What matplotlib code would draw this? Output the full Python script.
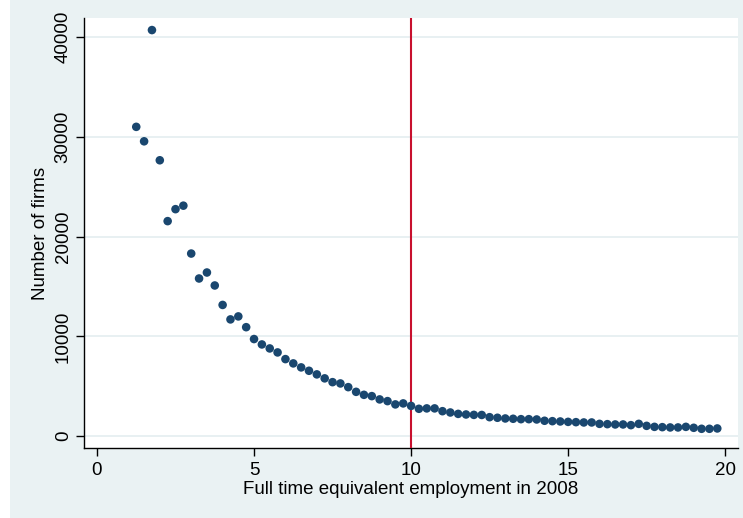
import matplotlib
matplotlib.use("Agg")
import matplotlib.pyplot as plt
from matplotlib.patches import Rectangle

# Data
fte = [1.25, 1.5, 1.75, 2.0, 2.25, 2.5, 2.75, 3.0, 3.25, 3.5, 3.75, 4.0, 4.25, 4.5, 4.75,
       5.0, 5.25, 5.5, 5.75, 6.0, 6.25, 6.5, 6.75, 7.0, 7.25, 7.5, 7.75, 8.0, 8.25, 8.5,
       8.75, 9.0, 9.25, 9.5, 9.75, 10.0, 10.25, 10.5, 10.75, 11.0, 11.25, 11.5, 11.75, 12.0,
       12.25, 12.5, 12.75, 13.0, 13.25, 13.5, 13.75, 14.0, 14.25, 14.5, 14.75, 15.0, 15.25,
       15.5, 15.75, 16.0, 16.25, 16.5, 16.75, 17.0, 17.25, 17.5, 17.75, 18.0, 18.25, 18.5,
       18.75, 19.0, 19.25, 19.5, 19.75]
firms = [31000, 29550, 40700, 27650, 21550, 22750, 23100, 18300, 15800, 16400, 15100, 13150,
         11700, 12000, 10920, 9730, 9190, 8790, 8390, 7720, 7290, 6890, 6550, 6190, 5790,
         5410, 5280, 4910, 4440, 4140, 4010, 3680, 3510, 3180, 3280, 3030, 2740, 2780, 2780,
         2500, 2370, 2230, 2170, 2130, 2120, 1900, 1840, 1770, 1740, 1700, 1700, 1670, 1540,
         1500, 1470, 1430, 1400, 1370, 1370, 1230, 1200, 1170, 1170, 1100, 1230, 1030, 930,
         900, 870, 870, 930, 835, 735, 735, 770]
cutoff = 10
xticks = [0, 5, 10, 15, 20]
yticks = [0, 10000, 20000, 30000, 40000]
xlabel = "Full time equivalent employment in 2008"
ylabel = "Number of firms"

BG = "#EAF2F3"
NAVY = "#1A476F"
RED = "#C8102E"
FS = 13.5

plt.rcParams['font.family'] = ['Liberation Sans', 'DejaVu Sans']

W, H = 743, 518
fig = plt.figure(figsize=(W / 100, H / 100), dpi=100, facecolor=BG)
fig.patches.append(Rectangle((0, 0), 10 / W, 1, transform=fig.transFigure,
                             facecolor="white", edgecolor="none", zorder=-10))

left, right, top, bottom = 84.3, 737.7, 18.3, 448.3
ax = fig.add_axes([left / W, 1 - bottom / H, (right - left) / W, (bottom - top) / H])
ax.set_facecolor("white")

ax.set_xlim(-0.404, 20.40)
ax.set_ylim(-1220, 41880)

for yt in yticks:
    ax.axhline(yt, color="#E4EEF0", lw=1.2, zorder=0)

ax.axvline(cutoff, color=RED, lw=1.5, zorder=3)
ax.scatter(fte, firms, s=38, color=NAVY, edgecolors="none", zorder=4)

ax.set_xticks(xticks)
ax.set_yticks(yticks)
ax.set_xticklabels([str(v) for v in xticks], fontsize=FS)
ax.set_yticklabels([str(v) for v in yticks], fontsize=FS, rotation=90, va="center")
ax.tick_params(axis="x", direction="out", length=6, width=1, color="black", pad=4)
ax.tick_params(axis="y", direction="out", length=6, width=1, color="black", pad=3)

for s in ["top", "right"]:
    ax.spines[s].set_visible(False)
for s in ["left", "bottom"]:
    ax.spines[s].set_color("black")
    ax.spines[s].set_linewidth(1)

ax.set_xlabel(xlabel, fontsize=FS, labelpad=1)
ax.set_ylabel(ylabel, fontsize=FS, labelpad=4)

fig.savefig("out.png", dpi=100, facecolor=BG)
